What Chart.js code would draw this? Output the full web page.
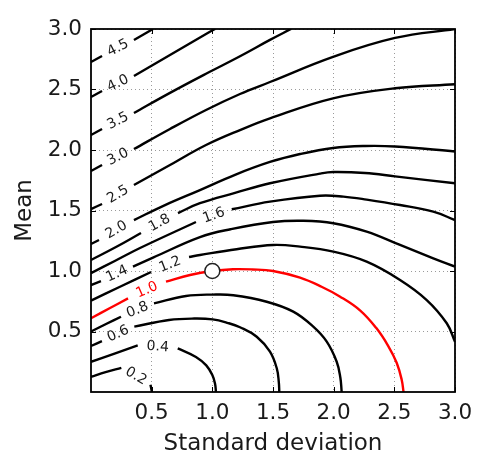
<!DOCTYPE html>
<html>
<head>
<meta charset="utf-8">
<script src="https://cdn.jsdelivr.net/npm/chart.js@4.4.0/dist/chart.umd.min.js"></script>
<style>
html,body{margin:0;padding:0;background:#ffffff;}
#wrap{width:487px;height:458px;}
</style>
</head>
<body>
<div id="wrap"><canvas id="c" width="487" height="458"></canvas></div>
<script>
// ---------- data ----------
const xTitle = 'Standard deviation';
const yTitle = 'Mean';
const xTicks = [0.5, 1.0, 1.5, 2.0, 2.5, 3.0];
const xTickLabels = ['0.5', '1.0', '1.5', '2.0', '2.5', '3.0'];
const yTicks = [0.5, 1.0, 1.5, 2.0, 2.5, 3.0];
const yTickLabels = ['0.5', '1.0', '1.5', '2.0', '2.5', '3.0'];

const levelLabels = ['0.2', '0.4', '0.6', '0.8', '1.0', '1.2', '1.4', '1.6', '1.8', '2.0', '2.5', '3.0', '3.5', '4.0', '4.5'];

// contour lines: [standard deviation, mean]; null = break where the level label sits
const c02 = [[0,0.125],[0.12,0.165],[0.25,0.20],null,[0.49,0.06],[0.497,0.025],[0.502,0]];
const c04 = [[0,0.25],[0.20,0.32],[0.385,0.385],null,[0.715,0.361],[0.865,0.29],[0.95,0.22],[1.0,0.14],[1.022,0.07],[1.03,0]];
const c06 = [[0,0.38],[0.09,0.42],null,[0.357,0.54],[0.643,0.595],[0.85,0.607],[1.003,0.60],[1.13,0.57],[1.228,0.535],[1.366,0.457],[1.475,0.333],[1.531,0.196],[1.548,0.08],[1.552,0]];
const c08 = [[0,0.50],[0.124,0.562],[0.247,0.622],null,[0.519,0.733],[0.783,0.793],[1.0,0.805],[1.173,0.80],[1.448,0.746],[1.667,0.664],[1.832,0.54],[1.943,0.416],[2.025,0.25],[2.055,0.12],[2.066,0]];
const c10 = [[0,0.609],[0.157,0.694],[0.305,0.774],null,[0.618,0.912],[0.816,0.967],[1.0,1.0],[1.17,1.015],[1.33,1.013],[1.5,1.0],[1.723,0.945],[1.9,0.87],[2.05,0.79],[2.217,0.675],[2.35,0.53],[2.45,0.38],[2.52,0.24],[2.561,0.10],[2.576,0]];
const c12 = [[0,0.755],[0.239,0.87],[0.495,0.992],null,[0.808,1.116],[0.898,1.132],[1.2,1.18],[1.5,1.215],[1.723,1.201],[1.997,1.16],[2.272,1.077],[2.547,0.926],[2.767,0.76],[2.932,0.568],[3.0,0.416]];
const c14 = [[0,0.884],[0.082,0.917],null,[0.346,1.036],[0.511,1.11],[0.898,1.28],[1.15,1.345],[1.5,1.405],[1.75,1.415],[1.997,1.395],[2.272,1.325],[2.547,1.215],[2.821,1.105],[3.0,1.036]];
const c16 = [[0,0.983],[0.2,1.085],[0.404,1.19],[0.865,1.405],null,[1.16,1.51],[1.475,1.573],[1.887,1.622],[2.08,1.615],[2.272,1.59],[2.547,1.545],[2.821,1.49],[3.0,1.421]];
const c18 = [[0,1.091],[0.206,1.198],[0.412,1.314],null,[0.717,1.479],[0.898,1.56],[1.187,1.645],[1.475,1.725],[1.887,1.805],[1.997,1.818],[2.258,1.81],[2.506,1.782],[3.0,1.725]];
const c20 = [[0,1.223],[0.066,1.256],null,[0.354,1.421],[0.61,1.545],[0.898,1.669],[1.187,1.795],[1.475,1.901],[1.723,1.967],[1.995,2.017],[2.258,2.033],[2.506,2.029],[3.0,1.988]];
const c25 = [[0,1.512],[0.091,1.554],null,[0.354,1.711],[0.651,1.876],[0.948,2.041],[1.228,2.165],[1.475,2.262],[1.995,2.427],[2.506,2.51],[3.0,2.543]];
const c30 = [[0,1.826],[0.091,1.876],null,[0.354,2.008],[0.651,2.174],[0.948,2.331],[1.228,2.463],[1.475,2.562],[1.995,2.77],[2.506,2.926],[3.0,3.0]];
const c35 = [[0,2.124],[0.091,2.174],null,[0.354,2.306],[0.651,2.472],[0.948,2.63],[1.228,2.775],[1.475,2.91],[1.648,3.0]];
const c40 = [[0,2.438],[0.091,2.488],null,[0.354,2.612],[0.651,2.785],[0.948,2.959],[1.022,3.0]];
const c45 = [[0,2.727],[0.091,2.777],null,[0.354,2.909],[0.511,3.0]];

const contours = [c02, c04, c06, c08, c10, c12, c14, c16, c18, c20, c25, c30, c35, c40, c45];
const highlightLevel = '1.0';
const markerPoint = [[1.0, 1.0]];

// ---------- chart ----------
const FONT = 'DejaVu Sans';
const TEXT = '#1a1a1a';

const toXY = arr => arr.map(p => p === null ? {x: null, y: null} : {x: p[0], y: p[1]});

const datasets = contours.map((c, i) => {
  const col = levelLabels[i] === highlightLevel ? '#ff0000' : '#000000';
  return {
    data: toXY(c),
    levelLabel: levelLabels[i],
    showLine: true,
    borderColor: col,
    backgroundColor: col,
    borderWidth: 2.4,
    pointRadius: 0,
    pointHoverRadius: 0,
    tension: 0.4,
    spanGaps: false,
    fill: false,
    borderCapStyle: 'butt',
    order: 1
  };
});
datasets.push({
  data: toXY(markerPoint),
  showLine: false,
  pointRadius: 7.5,
  pointStyle: 'circle',
  pointBackgroundColor: '#ffffff',
  pointBorderColor: '#222222',
  backgroundColor: '#ffffff',
  borderColor: '#222222',
  pointBorderWidth: 1.5,
  borderWidth: 1.5,
  order: 0
});

const decor = {
  id: 'decor',
  afterDatasetsDraw(chart) {
    const {ctx, chartArea: a, scales: {x, y}} = chart;
    // inline contour labels
    ctx.save();
    ctx.font = '14px "' + FONT + '"';
    ctx.textAlign = 'center';
    ctx.textBaseline = 'middle';
    chart.data.datasets.forEach(ds => {
      if (!ds.levelLabel) return;
      const d = ds.data;
      const k = d.findIndex(p => p.y === null);
      if (k < 1) return;
      const p0 = d[k - 1], p1 = d[k + 1];
      const x0 = x.getPixelForValue(p0.x), y0 = y.getPixelForValue(p0.y);
      const x1 = x.getPixelForValue(p1.x), y1 = y.getPixelForValue(p1.y);
      let ang = Math.atan2(y1 - y0, x1 - x0);
      if (ang > Math.PI / 2) ang -= Math.PI;
      if (ang < -Math.PI / 2) ang += Math.PI;
      ctx.save();
      ctx.translate((x0 + x1) / 2, (y0 + y1) / 2);
      ctx.rotate(ang);
      ctx.fillStyle = ds.borderColor === '#ff0000' ? '#ff0000' : TEXT;
      ctx.fillText(ds.levelLabel, 0, 0);
      ctx.restore();
    });
    ctx.restore();

    // inward tick marks on all four sides
    ctx.save();
    ctx.strokeStyle = '#000';
    ctx.lineWidth = 1;
    const L = 5;
    ctx.beginPath();
    x.ticks.forEach(t => {
      const px = Math.round(x.getPixelForValue(t.value)) + 0.5;
      ctx.moveTo(px, a.bottom); ctx.lineTo(px, a.bottom - L);
      ctx.moveTo(px, a.top); ctx.lineTo(px, a.top + L);
    });
    y.ticks.forEach(t => {
      const py = Math.round(y.getPixelForValue(t.value)) + 0.5;
      ctx.moveTo(a.left, py); ctx.lineTo(a.left + L, py);
      ctx.moveTo(a.right, py); ctx.lineTo(a.right - L, py);
    });
    ctx.stroke();
    // frame
    ctx.lineWidth = 1.8;
    ctx.strokeRect(a.left, a.top, a.right - a.left, a.bottom - a.top);
    ctx.restore();
  }
};

new Chart(document.getElementById('c'), {
  type: 'line',
  data: {datasets},
  options: {
    responsive: false,
    animation: false,
    events: [],
    devicePixelRatio: 1,
    layout: {padding: {left: 0, right: 32, top: 29, bottom: 0}},
    plugins: {legend: {display: false}, tooltip: {enabled: false}},
    scales: {
      x: {
        type: 'linear', min: 0, max: 3,
        afterBuildTicks: s => { s.ticks = xTicks.map(v => ({value: v})); },
        afterFit: s => { s.height = 66; },
        ticks: {
          callback: v => xTickLabels[xTicks.indexOf(v)],
          color: TEXT, font: {family: FONT, size: 21.5}, padding: 9,
          maxRotation: 0, autoSkip: false
        },
        grid: {color: '#9a9a9a', lineWidth: 1, drawTicks: false},
        border: {display: false, dash: [1, 3]},
        title: {display: true, text: xTitle, color: TEXT, font: {family: FONT, size: 23}, padding: {top: 0, bottom: 0}}
      },
      y: {
        type: 'linear', min: 0, max: 3,
        afterBuildTicks: s => { s.ticks = yTicks.map(v => ({value: v})); },
        afterFit: s => { s.width = 91; },
        ticks: {
          callback: v => yTickLabels[yTicks.indexOf(v)],
          color: TEXT, font: {family: FONT, size: 21.5}, padding: 9,
          autoSkip: false
        },
        grid: {color: '#9a9a9a', lineWidth: 1, drawTicks: false},
        border: {display: false, dash: [1, 3]},
        title: {display: true, text: yTitle, color: TEXT, font: {family: FONT, size: 23}, padding: {top: 11.5, bottom: 0}}
      }
    }
  },
  plugins: [decor]
});
</script>
</body>
</html>
